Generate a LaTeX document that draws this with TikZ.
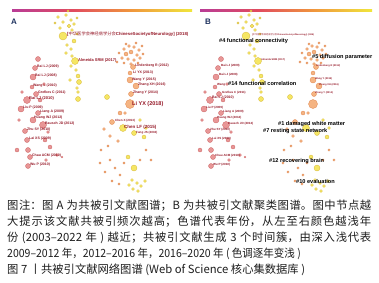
\documentclass[tikz,border=0pt]{standalone}
\usepackage{fontspec}
\usepackage{graphicx}
\setmainfont{Liberation Sans}
\newfontfamily\cjk{Noto Sans CJK SC}
\XeTeXlinebreaklocale "zh"
\XeTeXlinebreakskip=0pt plus 1pt
\pgfdeclarelayer{bg}
\pgfsetlayers{bg,main}
\definecolor{barA}{RGB}{185,60,150}
\definecolor{barB}{RGB}{225,75,95}
\definecolor{barC}{RGB}{240,150,60}
\definecolor{barD}{RGB}{240,230,60}
\definecolor{rfill}{RGB}{232,150,150}
\definecolor{rdraw}{RGB}{205,100,100}
\definecolor{ofill}{RGB}{245,180,130}
\definecolor{odraw}{RGB}{225,135,80}
\definecolor{yfill}{RGB}{245,230,100}
\definecolor{ydraw}{RGB}{215,185,60}
\definecolor{redgec}{RGB}{243,195,195}
\definecolor{oedgec}{RGB}{246,210,170}
\definecolor{yedgec}{RGB}{246,236,150}
\definecolor{labred}{RGB}{150,25,40}
\definecolor{navy}{RGB}{30,50,95}
\definecolor{captext}{RGB}{30,30,30}
\pgfdeclarehorizontalshading{colbar}{100bp}{color(0bp)=(barA); color(25bp)=(barA); color(42bp)=(barB); color(58bp)=(barC); color(75bp)=(barD); color(100bp)=(barD)}
\tikzset{
  nd/.style={circle,inner sep=0pt,line width=0.3pt},
  rnode/.style={nd,fill=rfill,draw=rdraw},
  onode/.style={nd,fill=ofill,draw=odraw},
  ynode/.style={nd,fill=yfill,draw=ydraw},
  redge/.style={draw=redgec,line width=0.3pt},
  oedge/.style={draw=oedgec,line width=0.3pt},
  yedge/.style={draw=yedgec,line width=0.35pt},
  lab/.style={inner sep=0pt,anchor=west,text=labred,font=\bfseries\fontsize{#1}{#1}\selectfont},
  lab/.default=3.5,
  clab/.style={inner sep=0pt,anchor=west,text=black,font=\bfseries\fontsize{5.6}{5.6}\selectfont},
  captxt/.style={inner sep=0pt,anchor=west,text=captext,font=\cjk\fontsize{11.3}{13}\selectfont},
  plab/.style={inner sep=0pt,text=navy,font=\bfseries\fontsize{8}{8}\selectfont}
}
\newcommand{\netnodes}[2]{%
  \foreach \nn/\xx/\yy/\rr in {r1/38/59/2.5,r2/35/68/2.5,r3/33/77/3,r4/32/87/2,r5/36/94/2.5,r6/27/100/3.5,r7/40/100/2,r8/21/109/3,r9/38/113/2.5,r10/33/120/3,r11/43/125/3.5,r12/25/131/2.5,r13/27/140/2.5,r14/45/140/2,r15/17/150/2,r16/28/150/2.5,r17/30/157/2.5,r18/50/147/2,r19/57/155/1.5,r20/28/166/2.5,r21/46/160/1.5,r22/62/157/1,r23/22/92/1.5,r24/44/84/1.5,r25/19/120/1.5,r26/48/132/1.5}
    \node[rnode,minimum size=2*\rr pt] (#1\nn) at (\xx+#2,\yy) {};
  \foreach \nn/\xx/\yy/\rr in {o1/124/49/1.5,o2/129/46/1.5,o3/134/47/1.5,o4/139/50/1.5,o5/126/54/2,o6/131/52/2,o7/137/55/1.5,o8/122/58/1.5,o9/128/59/1.5,o10/134/60/1.5,o11/140/58/1.5,o12/131/64/1.5,o13/133/67/2.5,o14/130/73/2,o15/130/80/3,o16/136/86/3,o17/131/94/2.5,o18/130/104/4.5,o19/120/113/2,o20/112/122/2.5,o24/104/129/1.5,o25/110/136/1.5,o26/118/141/1.5,o28/125/113/1.5,o30/126/44/1.2,o31/136/43/1.2,o32/143/54/1.2,o33/119/53/1.2,o34/124/63/1.2,o35/138/63/1.2,o36/142/46/1.2,o37/117/62/1.2,s1/110/160/1.2,s2/115/168/1.2,s3/120/175/1.2,s4/105/172/1.2,s5/124/163/1.2,s8/112/181/1.2,s9/119/184/1.2,s10/146/150/1.2,s11/151/160/1.2,s12/140/160/1.2,s13/101/150/1.2,s14/108/146/1.2,s15/100/163/1.2}
    \node[onode,minimum size=2*\rr pt] (#1\nn) at (\xx+#2,\yy) {};
  \foreach \nn/\xx/\yy/\rr in {y1/58/17/1.5,y2/66/15/1.5,y3/71/20/1.5,y4/63/22/1.5,y5/69/26/1.8,y6/74/24/1.5,y7/60/28/1.5,y8/72/30/1.5,y9/63/36/4,y10/74/41/2,y11/67/45/1.5,y12/71/49/1.5,y13/66/53/1.5,y14/72/56/1.5,y15/75/61/3.5,y16/71/66/1.5,y17/76/70/1.5,y18/78/76/2,y19/79/82/2.5,y20/77/88/1.5,y21/78/92/1.5,y22/78/99/2.5,y23/107/97/2.5,y24/70/80/1.5,y25/55/23/1.2,y26/77/18/1.2,y27/68/11/1.2,y28/77/34/1.2,o21/123/128/3.5,o22/134/133/2.5,o23/144/137/2,o27/140/120/1.5,o29/146/128/1.5,s6/128/157/2,s7/134/168/3,b1/132/180/1.5,b2/137/183/1.5,b3/141/186/1.5,b4/133/189/1.5,b5/145/181/1.5,b6/138/191/1.5,b7/129/185/1.5}
    \node[ynode,minimum size=2*\rr pt] (#1\nn) at (\xx+#2,\yy) {};
  \begin{pgfonlayer}{bg}
    \foreach \a/\b in {r1/r2,r2/r3,r3/r4,r4/r5,r5/r6,r6/r8,r8/r9,r9/r10,r10/r11,r11/r12,r12/r13,r13/r16,r16/r17,r17/r20,r6/r10,r3/r6,r1/r6,r2/r8,r8/r12,r9/r11,r6/r12,r13/r14,r14/r18,r18/r19,r16/r21,r17/r21,r12/r16,r10/r13,r1/r11,r2/r12,r3/r10,r5/r7,r7/r9,r6/r11,r8/r13,r15/r16,r15/r12,r20/r16,r19/r22,r11/r14,r4/r8,r1/r8,r2/r6,r3/r9,r23/r6,r23/r3,r24/r5,r24/r2,r25/r8,r25/r12,r26/r11,r26/r14}
      \draw[redge] (#1\a) -- (#1\b);
    \foreach \a/\b in {r1/y19,r3/y22,r5/y15,r11/y23,r6/y24,r2/y18,r10/y22}
      \draw[redge] (#1\a) to[bend left=25] (#1\b);
    \foreach \a/\b in {y1/y2,y2/y3,y1/y4,y4/y5,y3/y6,y4/y7,y5/y8,y7/y9,y5/y9,y8/y9,y6/y8,y9/y10,y9/y11,y10/y12,y11/y13,y12/y14,y13/y15,y14/y15,y15/y16,y15/y17,y16/y18,y17/y18,y18/y19,y19/y20,y20/y21,y21/y22,y24/y19,y16/y24,y9/y15,y10/y15,y19/y22,y22/y23,y23/o18,y22/o21,y19/o21,y23/o21,o21/o22,o22/o23,o21/o27,o27/o29,o29/o23,o21/s6,s6/s7,s7/b1,s7/b2,s7/b3,s7/b4,s7/b5,s7/b6,s7/b7,b1/b2,b2/b3,b4/b6,o22/s7,o23/s7,o27/s6,y25/y4,y25/y9,y26/y6,y26/y3,y27/y2,y27/y5,y28/y9,y28/y10}
      \draw[yedge] (#1\a) -- (#1\b);
    \foreach \a/\b in {y15/y22,y9/y19}
      \draw[yedge] (#1\a) to[bend left=30] (#1\b);
    \foreach \a/\b in {o1/o5,o2/o6,o3/o6,o4/o7,o5/o6,o6/o7,o5/o8,o5/o9,o6/o10,o7/o11,o9/o12,o10/o12,o11/o12,o8/o9,o12/o13,o13/o14,o14/o15,o15/o16,o15/o17,o16/o17,o17/o18,o18/o19,o19/o20,o19/o21,o18/o28,o28/o21,o20/o24,o20/o25,o25/o26,o26/o21,o18/o22,o18/o27,o13/o15,o14/o16,o20/o21,o26/s1,s1/s2,s2/s3,s4/s2,s5/s6,s3/s8,s8/s9,s10/s11,s12/s6,o23/s10,s11/s7,s12/s7,s9/s7,s3/s7,o25/s1,o24/s4,o30/o6,o31/o6,o32/o7,o33/o5,o34/o9,o35/o10,o36/o4,o37/o8,o30/o2,o31/o3,o34/o12,o35/o12,s13/s14,s14/o26,s15/s4,s13/o25}
      \draw[oedge] (#1\a) -- (#1\b);
  \end{pgfonlayer}
}
\begin{document}
\begin{tikzpicture}[x=1pt,y=-1pt]
\useasboundingbox[fill=white] (0,0) rectangle (379,282);
% colour bars
\shade[shading=colbar] (12,9) rectangle (192,11);
\shade[shading=colbar] (200,9) rectangle (372,11);
\node[plab] (pA) at (14,22) {A};
\node[plab] (pB) at (208,22) {B};
% networks
\netnodes{A}{0}
\netnodes{B}{183}
% labels panel A
\node[lab=4.3] (la1) at (67,34) {[{\cjk\mdseries 中华医学会神经病学分会}ChineseSocietyofNeurology] (2018)};
\node[lab=4] (la2) at (78,60) {Almeida SRM (2017)};
\node[lab] (la3) at (135,66) {Lindenberg R (2012)};
\node[lab] (la4) at (133,73) {Li YX (2013)};
\node[lab] (la5) at (132,80) {Wang Y (2015)};
\node[lab] (la6) at (138,85) {Zhang XH (2016)};
\node[lab] (la7) at (133,93) {Zhang Y (2014)};
\node[lab=5.5] (la8) at (132,104) {Li YX (2018)};
\node[lab=3] (la9) at (115,121) {Chen X (2013)};
\node[lab=4.5] (la10) at (124,127) {Chen LF (2015)};
\node[lab=3] (la11) at (136,133) {Fang JS (2016)};
\node[lab] (la12) at (37,67) {Bai LJ (2009)};
\node[lab] (la13) at (35,76) {Bai LJ (2008)};
\node[lab] (la14) at (33,86) {Wang L (2010)};
\node[lab] (la15) at (38,93) {Grefkes C (2011)};
\node[lab=4] (la16) at (29,98) {Bai LJ (2010)};
\node[lab] (la17) at (23,108) {Liu P (2009)};
\node[lab] (la18) at (40,112) {Liang A (2009)};
\node[lab] (la19) at (34,118) {Huang WJ (2012)};
\node[lab] (la20) at (45,124) {Bausch JD (2012)};
\node[lab] (la21) at (27,130) {Zhu SY (2010)};
\node[lab] (la22) at (29,139) {Lai XS (2009)};
\node[lab] (la23) at (32,156) {Chau ACM (2010)};
\node[lab] (la24) at (30,165) {Wu P (2010)};
% labels panel B
\node[lab=2.2] (lb1) at (252,35) {[{\cjk\mdseries 中华医学会神经病学分会}ChineseSocietyofNeurology] (2018)};
\node[lab=2.5] (lb2) at (261,60) {Almeida SRM (2017)};
\node[lab=2.5] (lb3) at (316,66) {Lindenberg R (2012)};
\node[lab=2.5] (lb5) at (315,79) {Wang Y (2015)};
\node[lab=2.5] (lb6) at (319,85) {Zhang XH (2016)};
\node[lab=2.5] (lb7) at (315,93) {Zhang Y (2014)};
\node[lab=3] (lb12) at (221,66) {Bai LJ (2009)};
\node[lab=3] (lb13) at (219,75) {Bai LJ (2008)};
\node[lab=3] (lb14) at (217,85) {Wang};
\node[lab=3] (lb15) at (222,93) {Grefkes C (2011)};
\node[lab=3.5] (lb16) at (212,98) {Bai LJ (2010)};
\node[lab=3] (lb17) at (206,108) {Liu P (2009)};
\node[lab=3] (lb18) at (223,112) {Liang A (2009)};
\node[lab=3] (lb19) at (217,118) {Huang WJ (2012)};
\node[lab=3] (lb20) at (228,124) {Bausch JD (2012)};
\node[lab=3] (lb21) at (210,130) {Zhu SY (2010)};
\node[lab=3] (lb22) at (212,139) {Lai XS (2009)};
\node[lab=3] (lb23) at (215,156) {Chau ACM (2010)};
\node[lab=3] (lb24) at (213,165) {Wu P (2010)};
% cluster labels
\node[clab] (c4) at (219,41) {\#4 functional connectivity};
\node[clab] (c5) at (312,57) {\#5 diffusion parameter};
\node[clab] (c14) at (228,83) {\#14 functional correlation};
\node[clab] (c1) at (278,124) {\#1 damaged white matter};
\node[clab] (c7) at (263,131) {\#7 resting state network};
\node[clab] (c12) at (269,161) {\#12 recovering brain};
\node[clab] (c10) at (296,181) {\#10 evaluation};
% caption
\node[captxt,text width=364pt,align=justify] (cap1) at (7,206) {\parfillskip=0pt 图注：图 A 为共被引文献图谱；B 为共被引文献聚类图谱。图中节点越\par};
\node[captxt,text width=364pt,align=justify] (cap2) at (7,222) {\parfillskip=0pt 大提示该文献共被引频次越高；色谱代表年份，从左至右颜色越浅年\par};
\node[captxt,text width=364pt,align=justify] (cap3) at (7,238) {\parfillskip=0pt 份 (2003–2022 年 ) 越近；共被引文献生成 3 个时间簇，由深入浅代表\par};
\node[captxt] (cap4) at (7,254) {\scalebox{0.93}[1]{2009–2012 年，2012–2016 年，2016–2020 年 ( 色调逐年变浅 )}};
\node[captxt] (cap5) at (7,270) {图 7 丨共被引文献网络图谱 (Web of Science 核心集数据库 )};
\end{tikzpicture}
\end{document}
